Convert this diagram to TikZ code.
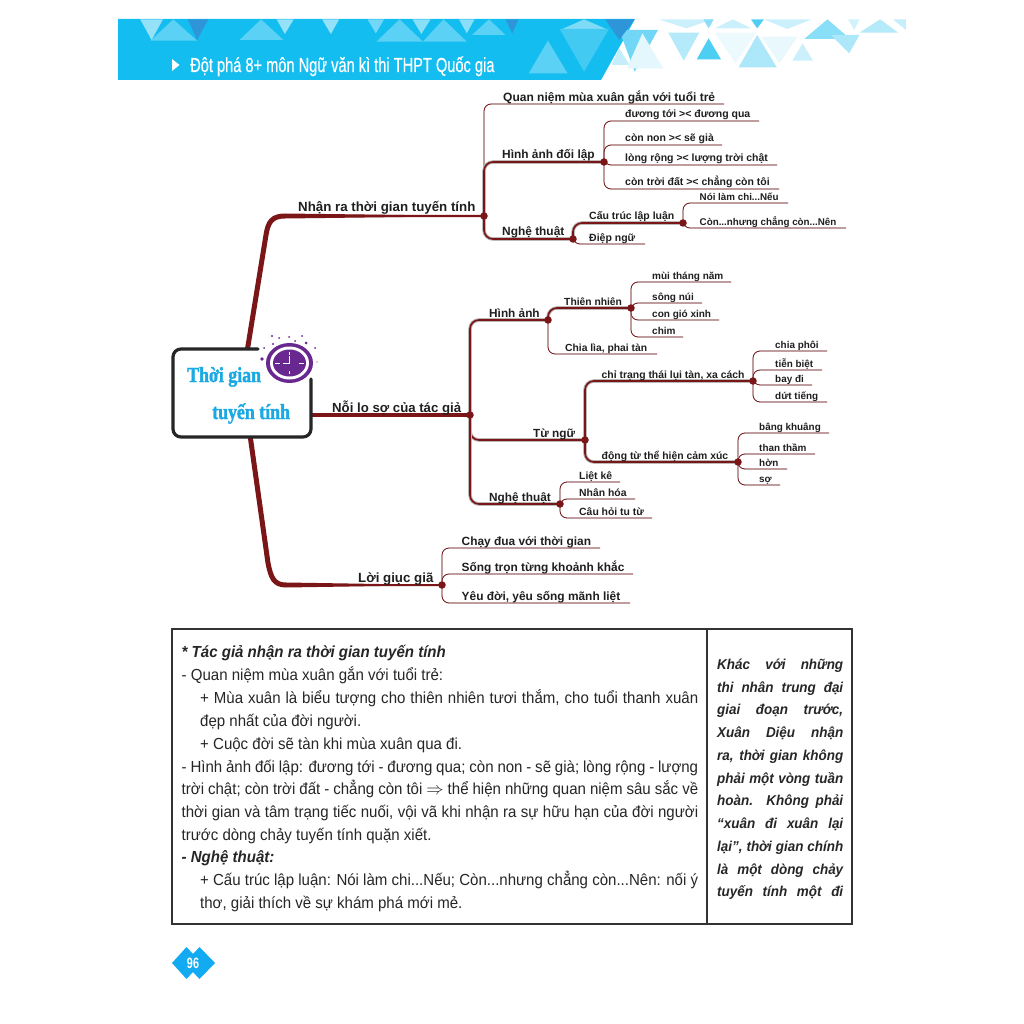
\documentclass[tikz,border=0pt]{standalone}
\usepackage{fontspec}
\setmainfont{Liberation Sans}
\newfontfamily\condf[FakeStretch=0.72]{Liberation Sans}
\newfontfamily\condb[FakeStretch=0.72,FakeBold=0.4]{Liberation Sans}
\newfontfamily\bodyf[FakeStretch=0.94]{Liberation Sans}
\newfontfamily\serf[FakeStretch=0.83,FakeBold=1.6]{Liberation Serif}
\pgfdeclarelayer{bg}\pgfdeclarelayer{back}\pgfsetlayers{back,bg,main}
\definecolor{brn}{HTML}{7A1518}
\definecolor{brnb}{HTML}{14BDF0}
\definecolor{ttl}{HTML}{1AA9E2}
\definecolor{pur}{HTML}{68288F}
\definecolor{shd}{HTML}{BABABA}
\newcommand\fs[1]{\fontsize{#1}{#1}\selectfont}
\tikzset{
 x=1pt,y=-1pt,
 hubdot/.style={circle,fill=brn,inner sep=0,minimum size=#1},
 twigline/.style={draw=brn,line width=.8pt,rounded corners=7pt},
 twigshade/.style={draw=shd,line width=.7pt,rounded corners=7pt,xshift=.6pt,yshift=-.9pt},
 limbline/.style={draw=brn,line width=1.7pt,rounded corners=9pt},
 limbshade/.style={draw=shd,line width=3.6pt,rounded corners=9pt,xshift=1.2pt,yshift=-1.6pt},
 lab/.style={anchor=base west,inner sep=0,font=\bfseries,text=black!88},
 bodyt/.style={anchor=base west,inner sep=0,text=black!85},
 dotp/.style={circle,fill=pur,inner sep=0,minimum size=#1},
}
\newcommand\twig[4]{\coordinate (#2) at (#3,#4);
 \begin{pgfonlayer}{bg}\draw[twigshade] (#1.center) |- (#2);\draw[twigline] (#1.center) |- (#2);\end{pgfonlayer}}
\newcommand\limb[2]{\begin{pgfonlayer}{bg}\draw[limbshade] (#1.center) |- (#2.center);\draw[limbline] (#1.center) |- (#2.center);\end{pgfonlayer}}
\newcommand\lb[5]{\node[lab] (#1) at (#2,#3) {\fs{#4}#5};}
\newcommand\tri[7]{\fill[#1] (#2,#3) -- (#4,#5) -- (#6,#7) -- cycle;}
\newcommand\jl[5]{\node[bodyt] (#1) at (#2,#3) {\bodyf\fs{16}\makebox[#4pt][s]{#5}};}
\newcommand\pl[4]{\node[bodyt] (#1) at (#2,#3) {\bodyf\fs{16}#4};}
\newcommand\rl[3]{\node[bodyt] (#1) at (717,#2) {\bodyf\fs{14.3}\bfseries\itshape\makebox[126pt][s]{#3}};}
\begin{document}
\begin{tikzpicture}
\useasboundingbox (0,0) rectangle (1024,1024);
\begin{pgfonlayer}{back}\fill[white] (0,0) rectangle (1024,1024);\end{pgfonlayer}
% ---------- banner
\fill[brnb] (118,19) -- (635,19) -- (601,80) -- (118,80) -- cycle;
\begin{scope}[x=.5167pt,y=-.3333pt,shift={(110.25pt,-10pt)}]
\tri{brnb!70!white}{78}{92}{168}{92}{122}{28}
\tri{brnb!45!white}{58}{28}{102}{28}{80}{90}
\tri{cyan!70!blue!85!white}{150}{28}{190}{28}{168}{90}
\tri{brnb!70!white}{250}{90}{335}{90}{292}{28}
\tri{brnb!45!white}{322}{28}{355}{28}{338}{72}
\tri{brnb!45!white}{410}{28}{443}{28}{427}{72}
\tri{brnb!60!white}{498}{28}{530}{28}{514}{70}
\tri{brnb!70!white}{515}{95}{605}{95}{560}{28}
\tri{brnb!70!white}{605}{95}{690}{95}{645}{28}
\tri{brnb!50!white}{585}{28}{620}{28}{602}{72}
\tri{brnb!50!white}{675}{28}{705}{28}{690}{70}
\tri{brnb!70!white}{700}{75}{765}{75}{733}{28}
\tri{cyan!70!blue!85!white}{765}{28}{790}{28}{778}{70}
\tri{brnb!55!white}{875}{57}{960}{57}{917}{28}
\tri{brnb!80!white}{870}{57}{965}{57}{917}{185}
\tri{brnb!70!white}{810}{190}{885}{190}{847}{92}
\tri{brnb!60!white}{985}{60}{1060}{60}{1015}{185}
\tri{brnb!25!white}{970}{165}{1005}{165}{985}{115}
\tri{cyan!70!blue!85!white}{958}{28}{1015}{28}{985}{90}
\tri{brnb!12!white}{1000}{175}{1070}{175}{1030}{70}
\tri{brnb!22!white}{1062}{28}{1165}{28}{1115}{55}
\tri{brnb!32!white}{1080}{68}{1140}{68}{1110}{152}
\tri{brnb!75!white}{1135}{148}{1182}{148}{1158}{85}
\tri{brnb!8!white}{1170}{68}{1250}{68}{1210}{160}
\tri{brnb!22!white}{1170}{55}{1240}{55}{1205}{28}
\tri{brnb!35!white}{1216}{172}{1290}{172}{1252}{75}
\tri{brnb!10!white}{1260}{80}{1330}{80}{1295}{160}
\tri{brnb!22!white}{1320}{152}{1360}{152}{1340}{100}
\tri{brnb!50!white}{1343}{87}{1432}{87}{1388}{28}
\tri{brnb!35!white}{1395}{75}{1450}{75}{1430}{130}
\tri{brnb!32!white}{1450}{68}{1525}{68}{1490}{28}
\tri{brnb!20!white}{1428}{28}{1450}{28}{1440}{60}
\tri{brnb!75!white}{1240}{28}{1265}{28}{1252}{55}
\tri{brnb!22!white}{1265}{28}{1358}{28}{1310}{57}
\tri{brnb!50!white}{1148}{28}{1168}{28}{1158}{55}
\tri{brnb!25!white}{1515}{28}{1540}{28}{1540}{60}
\end{scope}
\fill[white] (172,59) -- (179.5,65) -- (172,71) -- cycle;
\node[anchor=base west,inner sep=0,text=white] (bannertext) at (190,72) {\condb\fs{20.3}Đột phá 8+ môn Ngữ văn kì thi THPT Quốc gia};
% ---------- central box
\node[fill=white,rounded corners=8pt,minimum width=138pt,minimum height=88pt,inner sep=0] (box) at (242,393) {};
\draw[black!85,line width=3.2pt,rounded corners=8pt,line cap=round] (258,349) -- (173,349) -- (173,437) -- (311,437) -- (311,379);
\node[anchor=base west,inner sep=0,text=ttl] (c1) at (187,382) {\serf\bfseries\fs{21.5}Thời gian};
\node[anchor=base west,inner sep=0,text=ttl] (c2) at (212,419) {\serf\bfseries\fs{21.5}tuyến tính};
% clock
\fill[pur] (289.5,363) ellipse [x radius=23.5,y radius=20];
\fill[white] (289.5,363) ellipse [x radius=19.5,y radius=16.5];
\fill[pur] (289.5,363) ellipse [x radius=16.5,y radius=13.5];
\draw[white,line width=1pt] (289.5,352) -- (289.5,355) (289.5,371) -- (289.5,374) (299,363.5) -- (304,363.5) (275,363.5) -- (280,363.5);
\draw[white,line width=1pt] (289.5,355.5) -- (289.5,363.5) -- (283,363.5);
\foreach \n/\a/\b/\s in {a/272/336/2.4,b/279/338/2,c/289/337/2,d/295/341/2,e/302/336/2,f/306/343/3,g/315/348/2,h/273/344/2.4,i/264/348/2,j/262/359/3.6,k/317/362/1.4}
 \node[dotp=\s pt] (sp\n) at (\a,\b) {};
% ---------- hubs
\node[hubdot=7.5pt] (h1) at (484,216) {};
\node[hubdot=7.5pt] (h11) at (604,162) {};
\node[hubdot=7.5pt] (h12) at (573,239) {};
\node[hubdot=7.5pt] (h121) at (683,223) {};
\node[hubdot=7.5pt] (h2) at (470,415) {};
\node[hubdot=7.5pt] (h21) at (548,320) {};
\node[hubdot=7.5pt] (h211) at (631,308) {};
\node[hubdot=7.5pt] (h22) at (585,440) {};
\node[hubdot=7.5pt] (h221) at (753,381) {};
\node[hubdot=7.5pt] (h222) at (738,462) {};
\node[hubdot=7.5pt] (h23) at (560,504) {};
\node[hubdot=7.5pt] (h3) at (442,585) {};
% ---------- trunks
\coordinate (ta) at (247,352);
\coordinate (tb) at (250,435);
\coordinate (tc) at (312,415);
\begin{pgfonlayer}{bg}
\draw[brn,line width=2.2pt] (ta) -- (266,235) .. controls (268,222) and (272,216) .. (285,216) -- (h1.center);
\draw[brn,line width=5pt] (ta) -- (266,235) .. controls (268,222) and (272,216) .. (285,216);
\fill[brn] (285,213.5) -- (h1.center) -- (285,218.5) -- cycle;
\draw[brn,line width=2pt] (tb) -- (268,563) .. controls (271,578) and (274,585) .. (286,585) -- (h3.center);
\draw[brn,line width=5pt] (tb) -- (268,563) .. controls (271,578) and (274,585) .. (286,585);
\fill[brn] (286,582.5) -- (h3.center) -- (286,587.5) -- cycle;
\draw[brn,line width=4pt] (tc) -- (h2.center);
\end{pgfonlayer}
\lb{n1}{298}{212}{13.3}{Nhận ra thời gian tuyến tính}
\lb{n2}{332}{412}{13.2}{Nỗi lo sợ của tác giả}
\lb{n3}{358}{582}{13.3}{Lời giục giã}
% ---------- branch 1
\twig{h1}{e1}{724}{104}
\limb{h1}{h11}
\limb{h1}{h12}
\lb{l1}{503}{101.5}{12}{Quan niệm mùa xuân gắn với tuổi trẻ}
\lb{l2}{502}{158.5}{11.9}{Hình ảnh đối lập}
\lb{l3}{502}{236}{11.9}{Nghệ thuật}
\twig{h11}{e2}{759}{121}\lb{l4}{625}{118}{10.5}{đương tới >< đương qua}
\twig{h11}{e3}{722}{145}\lb{l5}{625}{142}{10.5}{còn non >< sẽ già}
\twig{h11}{e4}{777}{165}\lb{l6}{625}{162}{10.5}{lòng rộng >< lượng trời chật}
\twig{h11}{e5}{779}{189}\lb{l7}{625}{186}{10.5}{còn trời đất >< chẳng còn tôi}
\limb{h12}{h121}
\twig{h12}{e6}{645}{244}
\lb{l8}{589}{219}{10.5}{Cấu trúc lập luận}
\lb{l9}{589}{241}{10.5}{Điệp ngữ}
\twig{h121}{e7}{788}{203}\lb{l10}{699.5}{200.5}{9.8}{Nói làm chi...Nếu}
\twig{h121}{e8}{846}{228}\lb{l11}{699.5}{225.5}{9.8}{Còn...nhưng chẳng còn...Nên}
% ---------- branch 2
\limb{h2}{h21}
\limb{h2}{h22}
\limb{h2}{h23}
\lb{m1}{489}{317}{11.8}{Hình ảnh}
\lb{m2}{533}{437}{11.8}{Từ ngữ}
\lb{m3}{489}{501}{11.8}{Nghệ thuật}
\limb{h21}{h211}
\twig{h21}{f1}{657}{354}
\lb{m4}{564}{305}{10.3}{Thiên nhiên}
\lb{m5}{565}{351.5}{10.3}{Chia lìa, phai tàn}
\twig{h211}{f2}{731}{282}\lb{m6}{652}{279}{10}{mùi tháng năm}
\twig{h211}{f3}{702}{303}\lb{m7}{652}{300.5}{10}{sông núi}
\twig{h211}{f4}{719}{320}\lb{m8}{652}{317.5}{10}{con gió xinh}
\twig{h211}{f5}{683}{337}\lb{m9}{652}{334}{10}{chim}
\limb{h22}{h221}
\limb{h22}{h222}
\lb{m10}{601.5}{378}{10.4}{chỉ trạng thái lụi tàn, xa cách}
\lb{m11}{601.5}{459}{10.4}{động từ thể hiện cảm xúc}
\twig{h221}{g1}{827}{351}\lb{m12}{775}{348.5}{9.9}{chia phôi}
\twig{h221}{g2}{822}{370}\lb{m13}{775}{367}{9.9}{tiễn biệt}
\twig{h221}{g3}{812}{385}\lb{m14}{775}{382.5}{9.9}{bay đi}
\twig{h221}{g4}{827}{402}\lb{m15}{775}{399}{9.9}{dứt tiếng}
\twig{h222}{g5}{829}{433}\lb{m16}{759}{430.5}{9.9}{bâng khuâng}
\twig{h222}{g6}{815}{454}\lb{m17}{759}{451}{9.9}{than thầm}
\twig{h222}{g7}{787}{469}\lb{m18}{759}{466.5}{9.9}{hờn}
\twig{h222}{g8}{780}{485}\lb{m19}{759}{482.5}{9.9}{sợ}
\twig{h23}{g9}{620}{482}\lb{m20}{579}{479}{10.4}{Liệt kê}
\twig{h23}{g10}{635}{499}\lb{m21}{579}{496.5}{10.4}{Nhân hóa}
\twig{h23}{g11}{652}{518}\lb{m22}{579}{515}{10.4}{Câu hỏi tu từ}
% ---------- branch 3
\twig{h3}{k1}{600}{548}\lb{q1}{461.5}{545}{11.9}{Chạy đua với thời gian}
\twig{h3}{k2}{633}{574}\lb{q2}{461.5}{571}{11.9}{Sống trọn từng khoảnh khắc}
\twig{h3}{k3}{630}{603}\lb{q3}{461.5}{600}{11.9}{Yêu đời, yêu sống mãnh liệt}
% ---------- table
\draw[black!80,line width=1.3pt] (172,629) rectangle (852,924);
\draw[black!80,line width=1.3pt] (707,629) -- (707,924);
\node[bodyt] (b1) at (181.5,657) {\bodyf\fs{16}\bfseries\itshape * Tác giả nhận ra thời gian tuyến tính};
\pl{b2}{181.5}{680}{- Quan niệm mùa xuân gắn với tuổi trẻ:}
\jl{b3}{200}{703}{498}{+ Mùa xuân là biểu tượng cho thiên nhiên tươi thắm, cho tuổi thanh xuân}
\pl{b4}{200}{726}{đẹp nhất của đời người.}
\pl{b5}{200}{749}{+ Cuộc đời sẽ tàn khi mùa xuân qua đi.}
\jl{b6}{181.5}{772}{516.5}{- Hình ảnh đối lập: đương tới - đương qua; còn non - sẽ già; lòng rộng - lượng}
\jl{b7}{181.5}{794}{516.5}{trời chật; còn trời đất - chẳng còn tôi $\Rightarrow$ thể hiện những quan niệm sâu sắc về}
\jl{b8}{181.5}{817}{516.5}{thời gian và tâm trạng tiếc nuối, vội vã khi nhận ra sự hữu hạn của đời người}
\pl{b9}{181.5}{840}{trước dòng chảy tuyến tính quặn xiết.}
\node[bodyt] (b10) at (181.5,862) {\bodyf\fs{16}\bfseries\itshape - Nghệ thuật:};
\jl{b11}{200}{885}{498}{+ Cấu trúc lập luận: Nói làm chi...Nếu; Còn...nhưng chẳng còn...Nên: nối ý}
\pl{b12}{200}{908}{thơ, giải thích về sự khám phá mới mẻ.}
\rl{r1}{669}{Khác với những}
\rl{r2}{692}{thi nhân trung đại}
\rl{r3}{714}{giai đoạn trước,}
\rl{r4}{737}{Xuân Diệu nhận}
\rl{r5}{760}{ra, thời gian không}
\rl{r6}{783}{phải một vòng tuần}
\rl{r7}{805}{hoàn. Không phải}
\rl{r8}{828}{“xuân đi xuân lại}
\rl{r9}{851}{lại”, thời gian chính}
\rl{r10}{874}{là một dòng chảy}
\rl{r11}{896}{tuyến tính một đi}
% ---------- page number
\fill[brnb!90!blue] (172,963) -- (186.5,947) -- (193,954) -- (199.5,947) -- (215,963) -- (199.5,979) -- (193,972) -- (186.5,979) -- cycle;
\node[inner sep=0,text=white] (pg) at (193,963) {\condf\bfseries\fs{15}96};
\end{tikzpicture}
\end{document}
